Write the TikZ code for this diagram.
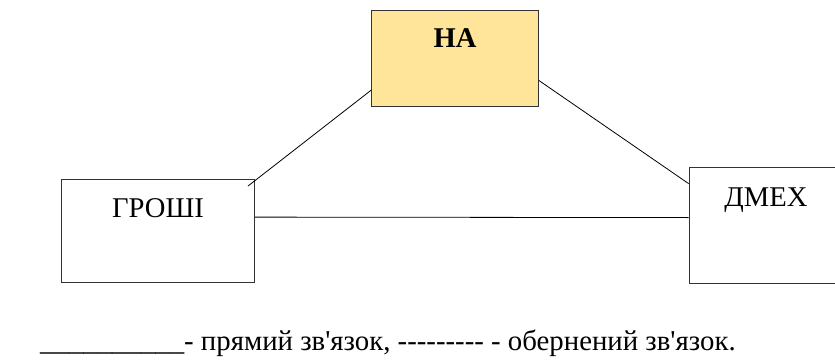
\documentclass[tikz,border=0pt]{standalone}
\usepackage{fontspec}
\setmainfont{Liberation Serif}[Ligatures=TeXOff]
\usetikzlibrary{positioning,calc}
\definecolor{nagold}{RGB}{255,229,153}

\begin{document}
\begin{tikzpicture}[x=1pt,y=-1pt,
    box/.style={draw=black!80, line width=0.8pt, rectangle, inner sep=0pt},
    boxtext/.style={anchor=base, font=\fontsize{28.6}{32}\selectfont},
    link/.style={line width=0.8pt}]
    % Page frame
    \useasboundingbox (0,0) rectangle (835,361);

    % Boxes
    \node[box, fill=nagold, minimum width=167, minimum height=96] (na) at (455,58) {};
    \node[box, minimum width=193, minimum height=103] (groshi) at (158,231) {};
    \node[box, minimum width=160, minimum height=116] (dmeh) at (769,225) {};

    % Box captions
    \node[boxtext, font=\fontsize{28.6}{32}\selectfont\bfseries] (natext) at (455,48) {НА};
    \node[boxtext] (groshitext) at (158,217) {ГРОШІ};
    \node[boxtext] (dmehtext) at (766,206) {ДМЕХ};

    % Links
    \draw[link] (na.201) -- ($(groshi.north east)+(-7,7)$);
    \draw[link] (na.-15) -- ($(dmeh.north west)+(0,17)$);
    \draw[link] ($(groshi.north east)+(0,38)$) -- ($(dmeh.north west)+(0,51)$);

    % Legend
    \node[anchor=base west, inner sep=0pt, font=\fontsize{28.8}{32}\selectfont] (legend) at (40,350)
        {\_\_\_\_\_\_\_\_\_\_- прямий зв'язок, --------- - обернений зв'язок.};
\end{tikzpicture}
\end{document}
